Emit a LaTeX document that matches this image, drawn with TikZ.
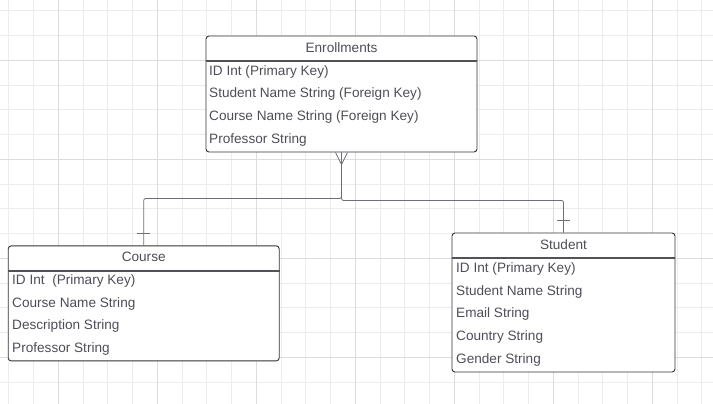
\documentclass[tikz,border=0pt]{standalone}
\definecolor{erdgrid}{RGB}{236, 236, 236}
\definecolor{erdgridmajor}{RGB}{220, 220, 220}
\definecolor{erdborder}{RGB}{51, 51, 56}
\definecolor{erdline}{RGB}{110, 110, 118}
\definecolor{erdtext}{RGB}{78, 78, 88}
\usepackage{fontspec}
\setmainfont{Liberation Sans}
\usepackage{tikz}
\usetikzlibrary{
  positioning,
  calc
}
\tikzset{
  entity/.style={draw=erdborder, line width=0.9pt, rounded corners=3pt, fill=white, inner sep=0pt},
  header/.style={draw=erdborder!85, line width=1.2pt},
  title/.style={text=erdtext, inner sep=0pt, font=\fontsize{13.6}{16}\selectfont},
  field/.style={text=erdtext, inner sep=0pt, anchor=west, font=\fontsize{13.6}{16}\selectfont},
  rel/.style={draw=erdline, line width=0.8pt},
  crossbar/.style={draw=erdline, line width=0.8pt}
}

\begin{document}
\begin{tikzpicture}[x=1pt, y=-1pt]
\useasboundingbox (0,0) rectangle (713,404);
% background grid
\foreach \i in {-2,...,26} {
  \draw[erdgrid, line width=0.8pt] ({58.3+24.75*\i},0) -- ++(0,404);
  \draw[erdgrid, line width=0.8pt] (0,{60.3+24.75*\i}) -- ++(713,0);
}
\foreach \i in {0,...,6} {
  \draw[erdgridmajor, line width=0.8pt] ({58.3+99*\i},0) -- ++(0,404);
  \draw[erdgridmajor, line width=0.8pt] (0,{60.3+99*\i}) -- ++(713,0);
}

% Enrollments
\node[entity, minimum width=271pt, minimum height=116pt] (enroll) at (341.5,94) {};
\draw[header] (enroll.west |- 0,61) -- (enroll.east |- 0,61);
\node[title] (enrollT) at (341.5,47.5) {Enrollments};
\foreach \t [count=\i] in {{ID Int (Primary Key)}, {Student Name String (Foreign Key)},
                           {Course Name String (Foreign Key)}, {Professor String}}
  \node[field] (enroll-\i) at (209,{71.5+22.7*(\i-1)}) {\t};

% Course
\node[entity, minimum width=271pt, minimum height=115pt] (course) at (143.7,303.4) {};
\draw[header] (course.west |- 0,271) -- (course.east |- 0,271);
\node[title] (courseT) at (143.7,257) {Course};
\foreach \t [count=\i] in {{ID Int~ (Primary Key)}, {Course Name String},
                           {Description String}, {Professor String}}
  \node[field] (course-\i) at (12,{281+22.7*(\i-1)}) {\t};

% Student
\node[entity, minimum width=223pt, minimum height=139pt] (student) at (563.5,302.5) {};
\draw[header] (student.west |- 0,258) -- (student.east |- 0,258);
\node[title] (studentT) at (563.5,245) {Student};
\foreach \t [count=\i] in {{ID Int (Primary Key)}, {Student Name String},
                           {Email String}, {Country String}, {Gender String}}
  \node[field] (student-\i) at (456,{269+22.7*(\i-1)}) {\t};

% relationships
\draw[rel, rounded corners=2pt] (enroll.south) -- ++(0,46) -| (course.north);
\draw[rel, rounded corners=2pt] (enroll.south) -- ++(0,48) -| (student.north);
\draw[rel] (enroll.south) ++(-6,0) -- ++(6,12) -- ++(6,-12);
\draw[crossbar] (course.north) ++(-6.5,-12.5) -- ++(13,0);
\draw[crossbar] (student.north) ++(-6.5,-12.5) -- ++(13,0);
\end{tikzpicture}
\end{document}
